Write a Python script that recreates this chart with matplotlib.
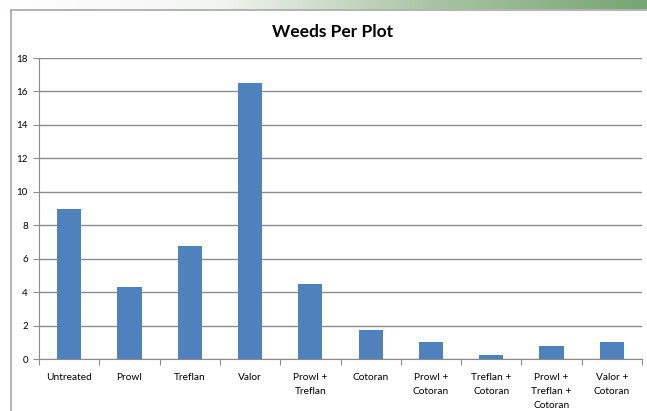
import numpy as np
import matplotlib.pyplot as plt
from matplotlib.colors import LinearSegmentedColormap
from matplotlib.lines import Line2D

# data
treatments = ["Untreated", "Prowl", "Treflan", "Valor", "Prowl +\nTreflan", "Cotoran",
              "Prowl +\nCotoran", "Treflan +\nCotoran", "Prowl +\nTreflan +\nCotoran", "Valor +\nCotoran"]
weeds = [9.0, 4.3, 6.75, 16.5, 4.5, 1.75, 1.0, 0.25, 0.8, 1.0]
yticks = [0, 2, 4, 6, 8, 10, 12, 14, 16, 18]

plt.rcParams['font.family'] = ['Lato', 'DejaVu Sans']

fig = plt.figure(figsize=(6.47, 4.11), dpi=100)

# green gradient band along the top
band = fig.add_axes([0, 1 - 9/411, 1, 9/411])
grad_cmap = LinearSegmentedColormap.from_list("band", ["#ffffff", "#f2f6f1", "#a9c4a4", "#77a573"])
band.imshow(np.linspace(0, 1, 256).reshape(1, -1), aspect="auto", cmap=grad_cmap)
band.set_axis_off()

# chart frame (left and top edges only visible)
fig.add_artist(Line2D([11/647, 11/647], [0, 1 - 10/411], color="#a6a6a6", lw=1.2))
fig.add_artist(Line2D([11/647, 1], [1 - 10/411, 1 - 10/411], color="#a6a6a6", lw=1.2))

ax = fig.add_axes([39/647, 1 - 359/411, 603/647, 301/411])
x = np.arange(len(treatments))
ax.bar(x, weeds, width=0.4, color="#4f81bd", zorder=3)

ax.set_xlim(-0.5, len(treatments) - 0.5)
ax.set_ylim(0, 18)
ax.set_yticks(yticks)
ax.set_yticklabels([str(t) for t in yticks], fontsize=7)
ax.yaxis.grid(True, color="#8c8c8c", lw=1, zorder=0)

ax.set_xticks(np.arange(len(treatments) + 1) - 0.5)
ax.set_xticklabels([])
ax.set_xticks(x, minor=True)
ax.set_xticklabels(treatments, minor=True, fontsize=7.3, linespacing=1.75)
ax.tick_params(axis="x", which="minor", length=0, pad=10)
ax.tick_params(axis="x", which="major", length=4, color="#8c8c8c")
ax.tick_params(axis="y", length=4, color="#8c8c8c", pad=4)

for side in ["top", "right"]:
    ax.spines[side].set_visible(False)
ax.spines["left"].set_color("#8c8c8c")
ax.spines["bottom"].set_color("#8c8c8c")

fig.text(333/647, 1 - 32/411, "Weeds Per Plot", ha="center", va="center",
         fontsize=12.5, fontweight="bold")

fig.savefig("out.png", dpi=100)
